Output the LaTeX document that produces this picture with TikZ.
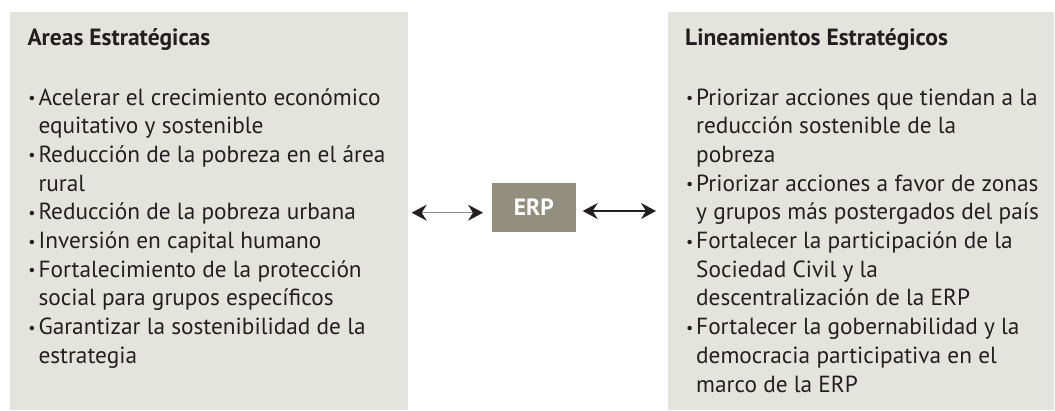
\documentclass[tikz,border=0pt]{standalone}
\usepackage{fontspec}
\setmainfont{PT Sans}
\usetikzlibrary{arrows.meta}
\definecolor{panel}{HTML}{E4E4DF}
\definecolor{erpfill}{HTML}{938F7F}
\definecolor{ink}{HTML}{231F20}
\definecolor{linegray}{HTML}{8C8C8C}
\newcommand{\bul}{\leavevmode\llap{{\fontsize{16}{16}\selectfont\raisebox{1.5pt}{\textbullet}}\hspace{2.8pt}}}
\begin{document}
\begin{tikzpicture}[x=1pt,y=-1pt,
  panelbox/.style={fill=panel,draw=none},
  title/.style={anchor=base west,inner sep=0pt,text=ink,font=\fontsize{23.5}{27}\selectfont\bfseries},
  items/.style={anchor=base west,inner sep=0pt,text=ink,font=\fontsize{23.3}{28.7}\selectfont},
  erpbox/.style={fill=erpfill,text=white,minimum width=84.3pt,minimum height=48.4pt,inner sep=0pt,font=\fontsize{23.5}{27}\selectfont\bfseries},
  biarrow/.style={{Stealth[length=15pt,width=16pt,inset=5pt,color=ink]}-{Stealth[length=15pt,width=16pt,inset=5pt,color=ink]},line width=1.2pt}
]
\useasboundingbox (0,0) rectangle (1055,410);
\fill[white] (0,0) rectangle (1055,410);
\path[panelbox] (10,12) rectangle (408,410);
\path[panelbox] (668,12) rectangle (1054,410);

\node[title] (tl) at (27.3,45.5) {Areas Estratégicas};
\node[title] (tr) at (685,45.5) {Lineamientos Estratégicos};

\node[items] (il) at (38.3,105) {\parbox[t]{360pt}{\raggedright
\bul Acelerar el crecimiento económico\\
equitativo y sostenible\\
\bul Reducción de la pobreza en el área\\
rural\\
\bul Reducción de la pobreza urbana\\
\bul Inversión en capital humano\\
\bul Fortalecimiento de la protección\\
social para grupos específicos\\
\bul Garantizar la sostenibilidad de la\\
estrategia}};

\node[items] (ir) at (696,105) {\parbox[t]{350pt}{\raggedright
\bul Priorizar acciones que tiendan a la\\
reducción sostenible de la\\
pobreza\\
\bul Priorizar acciones a favor de zonas\\
y grupos más postergados del país\\
\bul Fortalecer la participación de la\\
Sociedad Civil y la\\
descentralización de la ERP\\
\bul Fortalecer la gobernabilidad y la\\
democracia participativa en el\\
marco de la ERP}};

\node[erpbox] (erp) at (533.8,207.5) {ERP};

\coordinate (a1) at (411.7,212.7);
\coordinate (a2) at (483,212.7);
\coordinate (a3) at (582.7,211);
\coordinate (a4) at (656,211);
\draw[biarrow,draw=linegray] (a1) -- (a2);
\draw[biarrow,draw=ink] (a3) -- (a4);
\end{tikzpicture}
\end{document}
